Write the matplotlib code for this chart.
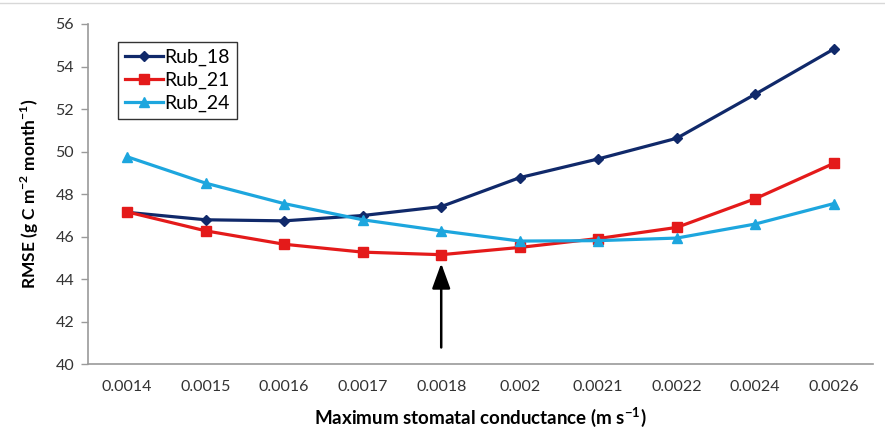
import matplotlib
matplotlib.use("Agg")
import matplotlib.pyplot as plt
from matplotlib.lines import Line2D

plt.rcParams['font.family'] = ['Lato', 'DejaVu Sans']
plt.rcParams['mathtext.fontset'] = 'custom'
plt.rcParams['mathtext.rm'] = 'Lato'
plt.rcParams['mathtext.bf'] = 'Lato:bold'

categories = ['0.0014', '0.0015', '0.0016', '0.0017', '0.0018',
              '0.002', '0.0021', '0.0022', '0.0024', '0.0026']
rub_18 = [47.15, 46.8, 46.75, 47.0, 47.42, 48.78, 49.66, 50.63, 52.7, 54.82]
rub_21 = [47.17, 46.28, 45.65, 45.28, 45.16, 45.5, 45.92, 46.44, 47.79, 49.45]
rub_24 = [49.76, 48.52, 47.56, 46.8, 46.28, 45.8, 45.82, 45.94, 46.6, 47.56]
yticks = [40, 42, 44, 46, 48, 50, 52, 54, 56]
arrow_cat = 4
arrow_from, arrow_to = 40.8, 44.75

fig = plt.figure(figsize=(8.85, 4.33), dpi=100)
ax = fig.add_axes([0.0994, 0.1582, 0.887, 0.7864])

x = list(range(len(categories)))
ax.plot(x, rub_18, color='#10296A', lw=2.3, marker='D', ms=5.5, label='Rub_18')
ax.plot(x, rub_21, color='#E41A1A', lw=2.3, marker='s', ms=7, label='Rub_21')
ax.plot(x, rub_24, color='#1DA6DE', lw=2.3, marker='^', ms=7.5, label='Rub_24')

ax.annotate('', xy=(arrow_cat, arrow_to), xytext=(arrow_cat, arrow_from),
            arrowprops=dict(arrowstyle='-|>,head_length=0.55,head_width=0.2',
                            color='black', lw=1.8,
                            mutation_scale=28, shrinkA=0, shrinkB=0))

ax.set_xlim(-0.5, len(categories) - 0.5)
ax.set_ylim(40, 56)
ax.set_yticks(yticks)
ax.set_xticks(x)
ax.set_xticklabels(categories)
ax.tick_params(axis='x', length=0, pad=11, labelsize=11.5, colors='#333333')
ax.tick_params(axis='y', length=5, width=1, color='#9a9a9a', pad=5,
               labelsize=11.5, labelcolor='#333333')
for s in ['top', 'right']:
    ax.spines[s].set_visible(False)
for s in ['left', 'bottom']:
    ax.spines[s].set_color('#9a9a9a')
    ax.spines[s].set_linewidth(1.2)

ax.set_xlabel(r'Maximum stomatal conductance (m s$^{\mathbf{-1}}$)',
              fontsize=13.5, fontweight='bold', labelpad=8)
ax.set_ylabel(r'RMSE (g C m$^{\mathbf{-2}}$ month$^{\mathbf{-1}}$)',
              fontsize=12.5, fontweight='bold', labelpad=10)

leg = ax.legend(loc='upper left', bbox_to_anchor=(0.038, 0.948),
                borderaxespad=0, fontsize=14, frameon=True, fancybox=False,
                handlelength=2.0, handletextpad=0.05, labelspacing=0.3,
                borderpad=0.35)
leg.get_frame().set_edgecolor('black')
leg.get_frame().set_linewidth(1.0)

fig.add_artist(Line2D([0, 1], [0.993, 0.993], transform=fig.transFigure,
                      color='#d8d8d8', lw=1))

fig.savefig('out.png', dpi=100)
